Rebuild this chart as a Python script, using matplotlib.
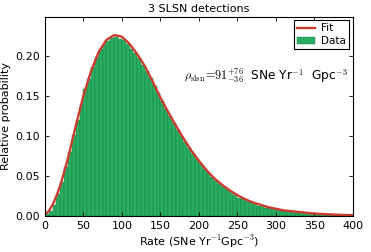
import numpy as np
import matplotlib
matplotlib.use('Agg')
import matplotlib.pyplot as plt

plt.rcParams['mathtext.fontset'] = 'cm'
plt.rcParams['font.family'] = 'DejaVu Sans'

# histogram: 5-unit bins from 0 to 400, heights
bin_edges = np.arange(0, 405, 5)
hist_vals = [0.003, 0.006, 0.014, 0.027, 0.043, 0.061, 0.080, 0.101, 0.120, 0.140,
             0.158, 0.171, 0.186, 0.198, 0.208, 0.215, 0.219, 0.222, 0.223, 0.221,
             0.220, 0.215, 0.209, 0.203, 0.197, 0.189, 0.181, 0.172, 0.162, 0.153,
             0.143, 0.134, 0.125, 0.116, 0.108, 0.100, 0.093, 0.085, 0.078, 0.071,
             0.065, 0.059, 0.054, 0.049, 0.044, 0.040, 0.036, 0.032, 0.029, 0.026,
             0.023, 0.021, 0.019, 0.017, 0.015, 0.013, 0.012, 0.010, 0.0095, 0.0085,
             0.0075, 0.0066, 0.0059, 0.0052, 0.0046, 0.0041, 0.0036, 0.0032, 0.0028, 0.0025,
             0.0022, 0.0020, 0.0018, 0.0016, 0.0014, 0.0013, 0.0011, 0.0010, 0.0009, 0.0008]

# fit curve, read every 10 units (denser near the origin)
fit_x = [0, 5, 10, 15, 20, 30, 40, 50, 60, 70, 80, 90,
         100, 110, 120, 130, 140, 150, 160, 170, 180, 190,
         200, 210, 220, 230, 240, 250, 260, 270, 280, 290,
         300, 310, 320, 330, 340, 350, 360, 370, 380, 390, 400]
fit_y = [0.002, 0.006, 0.014, 0.025, 0.038, 0.072, 0.112, 0.150, 0.181, 0.205, 0.220, 0.226,
         0.224, 0.215, 0.202, 0.187, 0.168, 0.148, 0.130, 0.113, 0.097, 0.082,
         0.069, 0.057, 0.047, 0.039, 0.032, 0.026, 0.021, 0.017, 0.014, 0.011,
         0.009, 0.007, 0.006, 0.005, 0.004, 0.003, 0.0025, 0.002, 0.0015, 0.0012,
         0.001]

fig = plt.figure(figsize=(3.71, 2.52), dpi=100)
ax = fig.add_axes([0.121, 0.143, 0.830, 0.791])

ax.bar(bin_edges[:-1], hist_vals, width=5, align='edge', color='#27ae60',
       edgecolor='#1d7a45', linewidth=0.3, label='Data')
ax.plot(fit_x, fit_y, color='#cb3b2e', lw=1.7, label='Fit')

ax.set_xlim(0, 400)
ax.set_ylim(0, 0.249)
ax.set_xticks(np.arange(0, 401, 50))
ax.set_yticks([0.0, 0.05, 0.10, 0.15, 0.20])
ax.set_yticklabels(['0.00', '0.05', '0.10', '0.15', '0.20'])
ax.tick_params(direction='in', top=True, right=True, labelsize=8, length=3, width=0.6)
for s in ax.spines.values():
    s.set_linewidth(0.8)

ax.set_title('3 SLSN detections', fontsize=8, pad=3)
ax.set_xlabel(r'Rate (SNe Yr$^{-1}$Gpc$^{-3}$)', fontsize=8, labelpad=2)
ax.set_ylabel('Relative probability', fontsize=8, labelpad=3)

ax.text(0.452, 0.705, r'$\rho_{\rm slsn}\!=\!91^{+76}_{-36}$  SNe Yr$^{-1}$  Gpc$^{-3}$',
        transform=ax.transAxes, fontsize=8.7, va='center', ha='left')

leg = ax.legend(loc='upper right', fontsize=7.5, fancybox=False, framealpha=1,
                edgecolor='k', handlelength=1.7, borderaxespad=0.35,
                borderpad=0.3, labelspacing=0.25, handletextpad=0.6)
leg.get_frame().set_linewidth(0.8)

fig.savefig('out.png', dpi=100)
